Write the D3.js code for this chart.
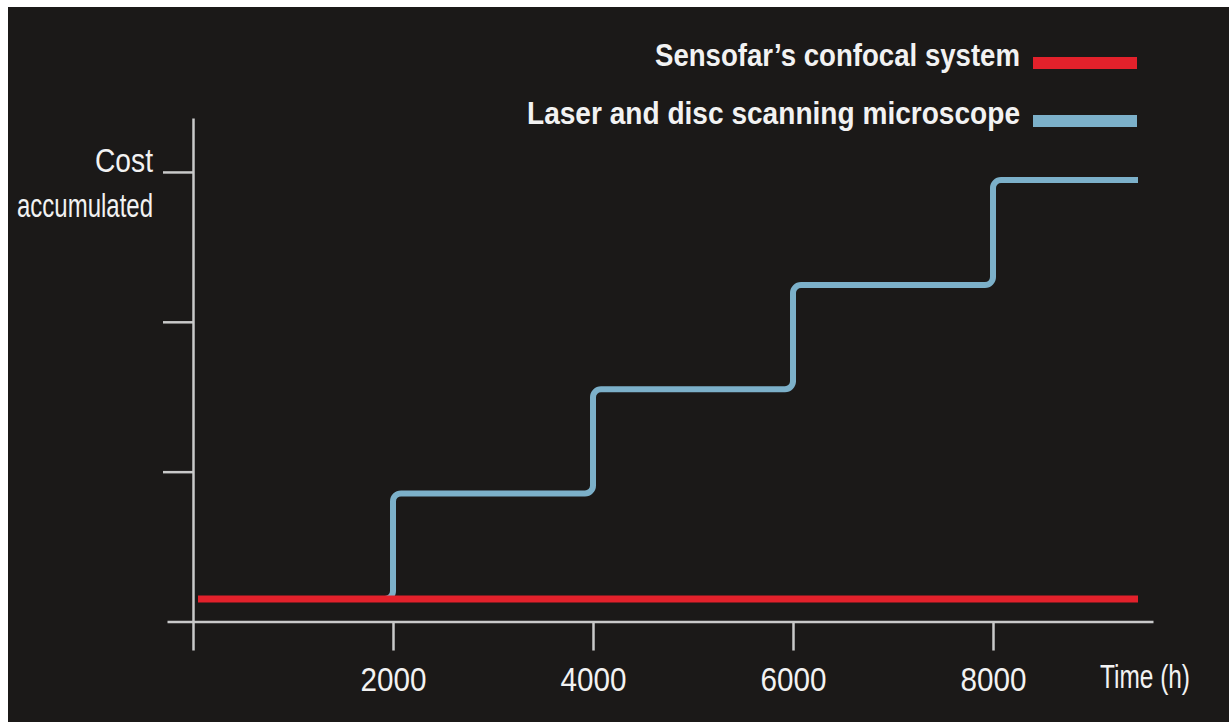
<!DOCTYPE html>
<html>
<head>
<meta charset="utf-8">
<script src="https://cdn.jsdelivr.net/npm/d3@7"></script>
<style>
  html, body { margin: 0; padding: 0; background: #ffffff; }
  svg { display: block; }
  text { font-family: "Liberation Sans Narrow", "Liberation Sans", sans-serif; fill: #f2f2f2; }
</style>
</head>
<body>
<div class="svg-container"></div>
<script>
// data
const hours = [50, 2000, 4000, 6000, 8000, 9450];
const laserCost = [0.15, 0.855, 1.55, 2.245, 2.946, 2.946];
const confocalHours = [50, 9450];
const confocalCost = [0.15, 0.15];
const xTicks = [2000, 4000, 6000, 8000];
const yTicks = [1, 2, 3];
const legendNames = ["Sensofar\u2019s confocal system", "Laser and disc scanning microscope"];
const legendColors = ["#e3212b", "#7cb0c9"];

const W = 1231, H = 722;
const svg = d3.select("div.svg-container").append("svg")
    .attr("width", W).attr("height", H);

svg.append("rect")
    .attr("x", 8).attr("y", 7).attr("width", 1221).attr("height", H - 7)
    .attr("fill", "#1b1918");

const x = d3.scaleLinear().domain([-260, 9600]).range([167, 1153]);
const y = d3.scaleLinear().domain([-0.19, 3.36]).range([650, 118]);

// axes
const xAxisG = svg.append("g")
    .attr("transform", `translate(0, ${y(0)})`)
    .call(d3.axisBottom(x).tickValues(xTicks).tickSize(29).tickSizeOuter(0).tickFormat(d3.format("d")));
const yAxisG = svg.append("g")
    .attr("transform", `translate(${x(0)}, 0)`)
    .call(d3.axisLeft(y).tickValues(yTicks).tickSize(30).tickSizeOuter(0).tickFormat(""));

[xAxisG, yAxisG].forEach(g => {
    g.select(".domain").attr("stroke", "#c9c9c9").attr("stroke-width", 2.5);
    g.selectAll(".tick line").attr("stroke", "#c9c9c9").attr("stroke-width", 2.5);
});
xAxisG.selectAll(".tick text")
    .attr("y", 0).attr("dy", 0)
    .attr("transform", "translate(0, 69)")
    .attr("textLength", 66).attr("lengthAdjust", "spacingAndGlyphs")
    .style("font-family", "'Liberation Sans Narrow', 'Liberation Sans', sans-serif")
    .style("font-size", "34px")
    .attr("fill", "#f2f2f2");

// axis titles
svg.append("text").attr("x", 1100).attr("y", 688)
    .attr("textLength", 90).attr("lengthAdjust", "spacingAndGlyphs")
    .style("font-size", "34px").text("Time (h)");
svg.append("text").attr("x", 153).attr("y", 172).attr("text-anchor", "end")
    .attr("textLength", 58).attr("lengthAdjust", "spacingAndGlyphs")
    .style("font-size", "34px").text("Cost");
svg.append("text").attr("x", 153).attr("y", 217).attr("text-anchor", "end")
    .attr("textLength", 136).attr("lengthAdjust", "spacingAndGlyphs")
    .style("font-size", "34px").text("accumulated");

// step curve with rounded corners
class RoundStepAfter {
    constructor(context, r) { this._context = context; this._r = r; }
    areaStart() {}
    areaEnd() {}
    lineStart() { this._pts = []; }
    point(px, py) { this._pts.push([+px, +py]); }
    lineEnd() {
        const p = this._pts, c = [];
        p.forEach((d, i) => {
            if (i > 0) c.push([d[0], p[i - 1][1]]);
            c.push(d);
        });
        const ctx = this._context;
        ctx.moveTo(c[0][0], c[0][1]);
        for (let i = 1; i < c.length - 1; i++) {
            ctx.arcTo(c[i][0], c[i][1], c[i + 1][0], c[i + 1][1], this._r);
        }
        ctx.lineTo(c[c.length - 1][0], c[c.length - 1][1]);
    }
}
const roundStep = ctx => new RoundStepAfter(ctx, 8);

const line = d3.line()
    .x(d => x(d[0]))
    .y(d => y(d[1]));

svg.append("path")
    .datum(d3.zip(hours, laserCost))
    .attr("fill", "none")
    .attr("stroke", legendColors[1])
    .attr("stroke-width", 6)
    .attr("d", line.curve(roundStep));

svg.append("path")
    .datum(d3.zip(confocalHours, confocalCost))
    .attr("fill", "none")
    .attr("stroke", legendColors[0])
    .attr("stroke-width", 7)
    .attr("d", line.curve(d3.curveLinear));

// legend
const legendWidths = [365, 493];
const legend = svg.append("g").selectAll("g")
    .data(legendNames)
    .join("g")
    .attr("transform", (d, i) => `translate(0, ${66 + i * 58})`);
legend.append("text")
    .attr("x", 1020).attr("text-anchor", "end")
    .attr("textLength", (d, i) => legendWidths[i]).attr("lengthAdjust", "spacingAndGlyphs")
    .style("font-size", "32px").style("font-weight", "bold")
    .text(d => d);
legend.append("rect")
    .attr("x", 1033).attr("y", -9).attr("width", 104).attr("height", 12)
    .attr("fill", (d, i) => legendColors[i]);
</script>
</body>
</html>
